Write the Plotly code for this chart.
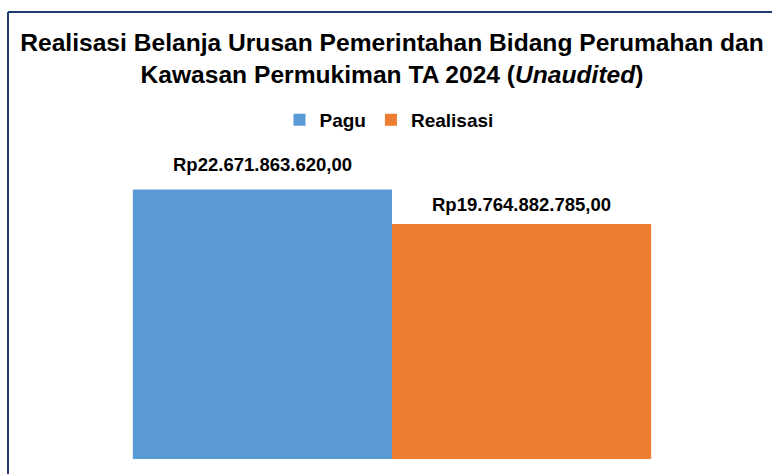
import plotly.graph_objects as go

categories = ["TA 2024"]
series_names = ["Pagu", "Realisasi"]
pagu = [22671863620.00]
realisasi = [19764882785.00]
colors = ["#5B9BD5", "#ED7D31"]

title_text = "Realisasi Belanja Urusan Pemerintahan Bidang Perumahan dan<br>Kawasan Permukiman TA 2024 (<i>Unaudited</i>)"


def rp(v):
    s = f"{v:,.2f}"
    s = s.replace(",", "X").replace(".", ",").replace("X", ".")
    return "Rp" + s


W, H = 772, 474
ML, MR, MT, MB = 12, 0, 160, 15
BARGAP = 0.318
FONT = "Liberation Sans, Arial, sans-serif"

fig = go.Figure()
for name, vals, c in zip(series_names, [pagu, realisasi], colors):
    fig.add_trace(go.Bar(x=categories, y=vals, name="<b>" + name + "</b>",
                         marker=dict(color=c, line=dict(width=0))))

plot_w = W - ML - MR
bar_w = plot_w * (1 - BARGAP) / 2
annotations = []
for i, vals in enumerate([pagu, realisasi]):
    for cat, v in zip(categories, vals):
        annotations.append(dict(
            x=cat, y=v, xref="x", yref="y", text="<b>" + rp(v) + "</b>",
            showarrow=False, xanchor="center", yanchor="bottom",
            xshift=(i - 0.5) * bar_w, yshift=[12, 7][i],
            font=dict(family=FONT, size=18.5, color="#000000"),
        ))

plot_h = H - MT - MB
def py(px):
    return (H - MB - px) / plot_h
def px_(x):
    return (x - ML) / plot_w

fig.update_layout(
    width=W, height=H,
    margin=dict(l=ML, r=MR, t=MT, b=MB),
    paper_bgcolor="white", plot_bgcolor="white",
    barmode="group", bargap=BARGAP, bargroupgap=0,
    title=dict(text="<b>" + title_text + "</b>", x=392 / W, xanchor="center",
               y=1 - 51 / H, yanchor="top", yref="container",
               font=dict(family=FONT, size=24.6, color="#000000")),
    legend=dict(orientation="h", x=px_(389), xanchor="center", y=py(120), yanchor="middle",
                font=dict(family=FONT, size=19, color="#000000"),
                traceorder="normal", itemclick=False),
    xaxis=dict(showticklabels=False, showgrid=False, zeroline=False, showline=False, ticks=""),
    yaxis=dict(range=[0, 25.15e9], showticklabels=False, showgrid=False, zeroline=False,
               showline=False, ticks=""),
    annotations=annotations,
    shapes=[
        dict(type="line", xref="paper", yref="paper", x0=px_(8), x1=px_(W + 5), y0=py(12), y1=py(12),
             line=dict(color="#1F3C72", width=2)),
        dict(type="line", xref="paper", yref="paper", x0=px_(8), x1=px_(8), y0=py(12), y1=py(H + 5),
             line=dict(color="#1F3C72", width=2)),
    ],
)

fig.write_html("out.html", config={"displayModeBar": False},
               post_script="document.body.style.margin='0';document.body.style.padding='0';")
